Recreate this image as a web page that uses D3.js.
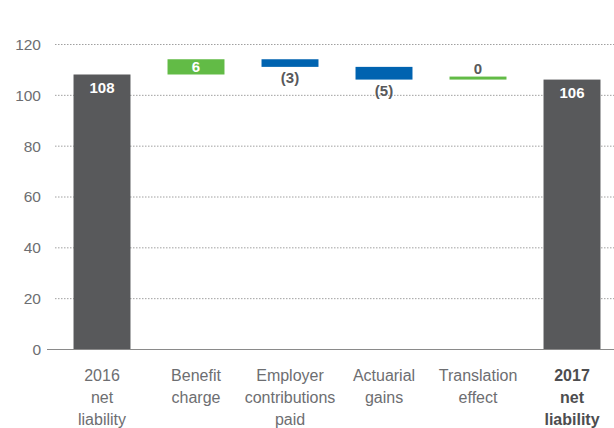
<!DOCTYPE html>
<html>
<head>
<meta charset="utf-8">
<script src="https://cdn.jsdelivr.net/npm/d3@7"></script>
<style>
  html, body { margin: 0; padding: 0; background: #fff; }
  svg { display: block; font-family: "Liberation Sans", Arial, sans-serif; }
</style>
</head>
<body>
<svg id="chart" width="614" height="428"></svg>
<script>
// Pension net liability bridge, 2016 to 2017
const categories = [
  ["2016", "net", "liability"],
  ["Benefit", "charge"],
  ["Employer", "contributions", "paid"],
  ["Actuarial", "gains"],
  ["Translation", "effect"],
  ["2017", "net", "liability"]
];
const steps = [108, 6, -3, -5, 0, 106];
const kinds = ["total", "delta", "delta", "delta", "delta", "total"];
const valueLabels = ["108", "6", "(3)", "(5)", "0", "106"];
const yTicks = [0, 20, 40, 60, 80, 100, 120];

const colors = { total: "#58595b", up: "#62bb46", down: "#0063b0", zero: "#62bb46" };

const svg = d3.select("#chart");
const W = 614, H = 428;

const x = d3.scaleBand()
  .domain(d3.range(categories.length))
  .range([55, 619])
  .paddingInner(0.394)
  .paddingOuter(0.197);

const y = d3.scaleLinear().domain([0, 120]).range([349, 44]);

// waterfall segments
let running = 0;
const bars = steps.map((v, i) => {
  let lo, hi;
  if (kinds[i] === "total") { lo = 0; hi = v; running = v; }
  else { const start = running; running += v; lo = Math.min(start, running); hi = Math.max(start, running); }
  const kind = kinds[i] === "total" ? "total" : (v > 0 ? "up" : v < 0 ? "down" : "zero");
  return { i, v, lo, hi, kind, label: valueLabels[i] };
});

// gridlines
svg.append("g")
  .selectAll("line")
  .data(yTicks.filter(t => t > 0))
  .join("line")
  .attr("x1", 55).attr("x2", W)
  .attr("y1", d => y(d) + 0.5).attr("y2", d => y(d) + 0.5)
  .attr("stroke", "#a0a0a0")
  .attr("stroke-width", 1)
  .attr("stroke-dasharray", "1.5,1.5");

// y axis tick labels
const yAxis = d3.axisLeft(y).tickValues(yTicks).tickSize(0).tickPadding(0);
const gy = svg.append("g").attr("transform", "translate(41,0)").call(yAxis);
gy.select(".domain").remove();
gy.selectAll("text")
  .attr("fill", "#6d6e71")
  .style("font-size", "15.5px")
  .style("font-family", "Liberation Sans, Arial, sans-serif")
  .attr("dy", "0.35em");

// bars
svg.append("g")
  .selectAll("rect")
  .data(bars)
  .join("rect")
  .attr("x", d => x(d.i))
  .attr("width", x.bandwidth())
  .attr("y", d => d.kind === "zero" ? y(d.hi) - 3 : y(d.hi))
  .attr("height", d => d.kind === "zero" ? 3 : y(d.lo) - y(d.hi))
  .attr("fill", d => colors[d.kind]);

// baseline
svg.append("line")
  .attr("x1", 47).attr("x2", W)
  .attr("y1", y(0) + 0.5).attr("y2", y(0) + 0.5)
  .attr("stroke", "#8a8a8a")
  .attr("stroke-width", 1.2);

// value labels
svg.append("g")
  .selectAll("text")
  .data(bars)
  .join("text")
  .attr("x", d => x(d.i) + x.bandwidth() / 2)
  .attr("y", d => {
    if (d.kind === "total") return y(d.hi) + 18;
    if (d.kind === "up") return y(d.hi) + 13;
    if (d.kind === "down") return y(d.lo) + 16;
    return y(d.hi) - 6;
  })
  .attr("text-anchor", "middle")
  .attr("fill", d => (d.kind === "total" || d.kind === "up") ? "#ffffff" : "#58595b")
  .style("font-size", "15px")
  .style("font-weight", "bold")
  .text(d => d.label);

// category labels
const cat = svg.append("g")
  .selectAll("text")
  .data(categories)
  .join("text")
  .attr("x", (d, i) => x(i) + x.bandwidth() / 2)
  .attr("y", 381)
  .attr("text-anchor", "middle")
  .attr("fill", (d, i) => i === categories.length - 1 ? "#4d4d4f" : "#6d6e71")
  .style("font-size", "16px")
  .style("font-weight", (d, i) => i === categories.length - 1 ? "bold" : "normal");
cat.selectAll("tspan")
  .data(d => d)
  .join("tspan")
  .attr("x", function () { return d3.select(this.parentNode).attr("x"); })
  .attr("dy", (d, j) => j === 0 ? 0 : 22)
  .text(d => d);
</script>
</body>
</html>
